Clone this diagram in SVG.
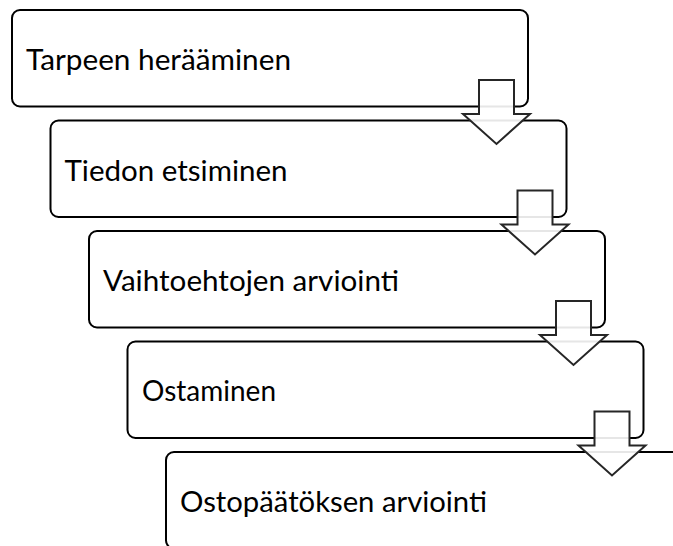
<svg xmlns="http://www.w3.org/2000/svg" width="673" height="546" viewBox="0 0 673 546">
<style>
.box{fill:#ffffff;stroke:#000000;stroke-width:2}
.arr{fill:#ffffff;fill-opacity:0.9;stroke:#262626;stroke-width:2;stroke-linejoin:miter}
.lbl{font-family:Lato,"Open Sans","Liberation Sans",sans-serif;font-size:29px;fill:#000000}
</style>
<rect width="673" height="546" fill="#ffffff"/>
<g id="node1"><rect class="box" x="12" y="10" width="516" height="96.5" rx="8"/><text class="lbl" x="26" y="70" textLength="265" lengthAdjust="spacingAndGlyphs">Tarpeen herääminen</text></g>
<g id="node2"><rect class="box" x="50.5" y="120.5" width="516" height="96.5" rx="8"/><text class="lbl" x="64.5" y="180.5" textLength="223" lengthAdjust="spacingAndGlyphs">Tiedon etsiminen</text></g>
<g id="node3"><rect class="box" x="89" y="231" width="516" height="96.5" rx="8"/><text class="lbl" x="103" y="291" textLength="296" lengthAdjust="spacingAndGlyphs">Vaihtoehtojen arviointi</text></g>
<g id="node4"><rect class="box" x="127.5" y="341.5" width="516" height="96.5" rx="8"/><text class="lbl" x="142" y="401" textLength="134" lengthAdjust="spacingAndGlyphs">Ostaminen</text></g>
<g id="node5"><rect class="box" x="166" y="452" width="516" height="96.5" rx="8"/><text class="lbl" x="180" y="512" textLength="307" lengthAdjust="spacingAndGlyphs">Ostopäätöksen arviointi</text></g>
<g id="connectors">
<path class="arr" d="M479,80 H514 V114 H530 L496.5,144 L463,114 H479 Z"/>
<path class="arr" d="M517.5,190.5 H552.5 V224.5 H568.5 L535,254.5 L501.5,224.5 H517.5 Z"/>
<path class="arr" d="M556,301 H591 V335 H607 L573.5,365 L540,335 H556 Z"/>
<path class="arr" d="M594.5,411.5 H629.5 V445.5 H645.5 L612,475.5 L578.5,445.5 H594.5 Z"/>
</g>
</svg>
